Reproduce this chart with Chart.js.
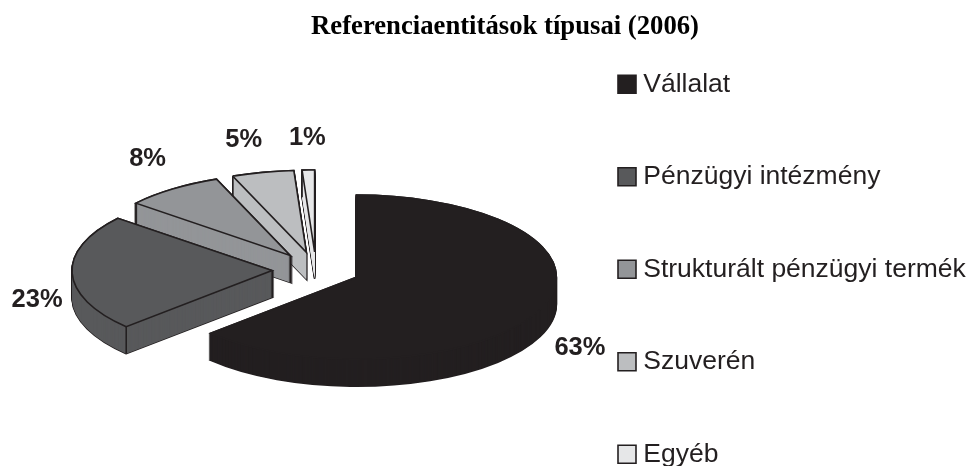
<!DOCTYPE html>
<html><head><meta charset="utf-8">
<style>html,body{margin:0;padding:0;background:#fff}canvas{display:block}</style>
<script src="https://cdn.jsdelivr.net/npm/chart.js@4/dist/chart.umd.min.js"></script>
</head><body>
<canvas id="c" width="974" height="466"></canvas>
<script>
const TITLE = 'Referenciaentitások típusai (2006)';
const CATEGORIES = ['Vállalat', 'Pénzügyi intézmény', 'Strukturált pénzügyi termék', 'Szuverén', 'Egyéb'];
const SHARES = [63, 23, 8, 5, 1];
const COLORS = ['#231f20', '#58595b', '#939598', '#bcbec0', '#e6e7e8'];
const LABEL_DX = [40, -35, -25, -19, -1];
const LABEL_DY = [38, 27, -30, -32, -32];
const INK = '#231f20';
const PIE_CX = 316, PIE_CY = 270, RADIUS = 200, TILT = 0.41, DEPTH = 27, EXPLODE = 44, LINE = 1.6;

function placed(ctx, arc, depth, fn) {
  const mid = (arc.startAngle + arc.endAngle) / 2;
  ctx.save();
  ctx.translate(PIE_CX, PIE_CY + depth);
  ctx.scale(1, TILT);
  ctx.translate(Math.cos(mid) * EXPLODE - arc.x, Math.sin(mid) * EXPLODE - arc.y);
  fn();
  ctx.restore();
}
function paint(ctx, arc, fill, stroke, width, depth) {
  const flat = Object.create(arc, {options: {value: {
    backgroundColor: fill, borderColor: stroke, borderWidth: width, borderAlign: 'center',
    borderJoinStyle: 'miter', offset: 0, spacing: 0, circular: true
  }}});
  placed(ctx, arc, depth, () => flat.draw(ctx));
}
const pie3d = {
  id: 'pie3d',
  afterLayout(chart) {
    const lg = chart.legend, pad = lg.options.labels.padding;
    lg.maxHeight = 800;
    lg.fit();
    lg.left = 624 - pad; lg.right = lg.left + lg.width;
    lg.top = 71 - pad; lg.bottom = lg.top + lg.height;
  },
  beforeDatasetsDraw(chart) {
    const ctx = chart.ctx, arcs = chart.getDatasetMeta(0).data;
    const stroke = ctx.stroke;
    ctx.stroke = function () { ctx.save(); ctx.setTransform(1, 0, 0, 1, 0, 0); stroke.call(ctx); ctx.restore(); };
    for (let i = arcs.length - 1; i >= 0; i--) {
      const arc = arcs[i], col = COLORS[i];
      for (let d = DEPTH; d >= 0; d--) paint(ctx, arc, col, INK, LINE, d);
      for (let d = DEPTH; d >= 0; d--) paint(ctx, arc, col, col, 0, d);
      paint(ctx, arc, col, INK, LINE, 0);
      // vertical edge at the leading corner of the slice wall
      const mid = (arc.startAngle + arc.endAngle) / 2;
      const x = PIE_CX + Math.cos(mid) * EXPLODE + Math.cos(arc.startAngle) * arc.outerRadius;
      const y = PIE_CY + TILT * (Math.sin(mid) * EXPLODE + Math.sin(arc.startAngle) * arc.outerRadius);
      ctx.save();
      ctx.strokeStyle = INK; ctx.lineWidth = LINE;
      ctx.beginPath(); ctx.moveTo(x, y); ctx.lineTo(x, y + DEPTH);
      ctx.stroke();
      ctx.restore();
    }
    delete ctx.stroke;
    return false;
  },
  afterDraw(chart) {
    const ctx = chart.ctx, arcs = chart.getDatasetMeta(0).data;
    ctx.save();
    ctx.font = 'bold 25.5px "Liberation Sans"';
    ctx.fillStyle = INK;
    ctx.textAlign = 'center';
    ctx.textBaseline = 'middle';
    arcs.forEach((arc, i) => {
      const mid = (arc.startAngle + arc.endAngle) / 2, r = arc.outerRadius + EXPLODE;
      ctx.fillText(SHARES[i] + '%',
        PIE_CX + Math.cos(mid) * r + LABEL_DX[i],
        PIE_CY + TILT * Math.sin(mid) * r + LABEL_DY[i]);
    });
    ctx.restore();
  }
};
new Chart(document.getElementById('c'), {
  type: 'pie',
  data: {
    labels: CATEGORIES,
    datasets: [{data: SHARES, backgroundColor: COLORS, borderColor: INK, borderWidth: LINE}]
  },
  plugins: [pie3d],
  options: {
    responsive: false,
    animation: false,
    events: [],
    radius: RADIUS,
    layout: {padding: {left: 36}},
    plugins: {
      tooltip: {enabled: false},
      title: {
        display: true, text: TITLE, color: '#000',
        font: {family: '"Liberation Serif"', size: 26.7, weight: 'bold', lineHeight: 1.2},
        padding: {top: 11, bottom: -42}
      },
      legend: {
        position: 'right', align: 'start',
        labels: {
          color: INK, usePointStyle: true, pointStyle: 'rect', boxWidth: 6, boxHeight: 18, padding: 66,
          font: {family: '"Liberation Sans"', size: 26.5}
        }
      }
    }
  }
});
</script>
</body></html>
